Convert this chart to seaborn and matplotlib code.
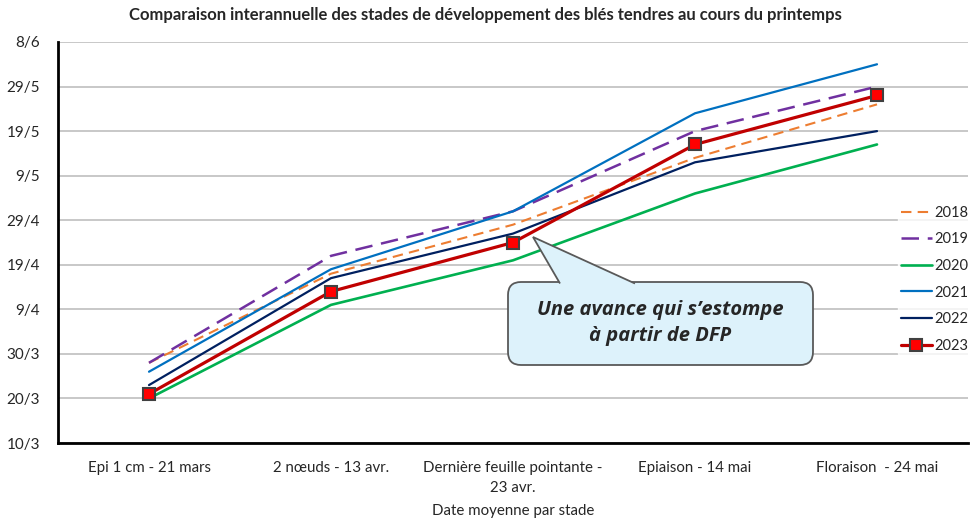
import seaborn as sb
import pandas as pd
import matplotlib
matplotlib.use("Agg")
import matplotlib.pyplot as plt
import matplotlib.dates as mdates
from matplotlib.patches import FancyBboxPatch, Polygon
from matplotlib.transforms import IdentityTransform
from matplotlib.ticker import FuncFormatter, FixedLocator

#### data (dates, day/month)
stades = ["Epi 1 cm - 21 mars", "2 nœuds - 13 avr.", "Dernière feuille pointante -\n23 avr.",
          "Epiaison - 14 mai", "Floraison  - 24 mai"]
years = ["2018", "2019", "2020", "2021", "2022", "2023"]
d2018 = ["28/3", "17/4", "28/4", "13/5", "25/5"]
d2019 = ["28/3", "21/4", "1/5", "19/5", "29/5"]
d2020 = ["20/3", "10/4", "20/4", "5/5", "16/5"]
d2021 = ["26/3", "18/4", "1/5", "23/5", "3/6"]
d2022 = ["23/3", "16/4", "26/4", "12/5", "19/5"]
d2023 = ["21/3", "13/4", "24/4", "16/5", "27/5"]
series = [d2018, d2019, d2020, d2021, d2022, d2023]
y_first, y_last = "10/3", "8/6"

colors = ["#ED7D31", "#7030A0", "#00B050", "#0070C0", "#002060", "#C00000"]
lnst = [(0, (5, 3)), (0, (7, 3.5)), "-", "-", "-", "-"]
widths = [1.5, 1.8, 1.9, 1.6, 1.6, 2.3]

W, H = 971, 519


def to_num(s):
	return mdates.date2num(pd.to_datetime(s + "/2023", format="%d/%m/%Y"))


sb.set_style("white")
plt.rcParams['font.family'] = ['Lato', 'DejaVu Sans']

fig = plt.figure(figsize=(W / 100, H / 100), dpi=100)
ax = fig.add_axes([58 / W, 1 - 443 / H, (968 - 58) / W, (443 - 42) / H])

for i, yr in enumerate(years):
	df = pd.DataFrame({"stade": range(len(stades)), "date": [to_num(s) for s in series[i]]})
	if yr == "2023":
		sb.lineplot(data=df, x="stade", y="date", ax=ax, color=colors[i], linewidth=widths[i],
			marker="s", markersize=9, markerfacecolor="#FF0000", markeredgecolor="#404040",
			markeredgewidth=1.5, label=yr, zorder=5)
	else:
		sb.lineplot(data=df, x="stade", y="date", ax=ax, color=colors[i], linewidth=widths[i],
			linestyle=lnst[i], label=yr, zorder=3)

# axes
y0, y1 = to_num(y_first), to_num(y_last)
ax.set_ylim(y0, y1)
ax.yaxis.set_major_locator(FixedLocator([y0 + 10 * k for k in range(10)]))
ax.yaxis.set_major_formatter(FuncFormatter(lambda v, p: "%d/%d" % (mdates.num2date(v).day, mdates.num2date(v).month)))
ax.set_xlim(-0.5, len(stades) - 0.5)
ax.set_xticks(range(len(stades)))
ax.set_xticklabels(stades, fontsize=10.8, linespacing=1.5)
ax.set_xticks([k - 0.5 for k in range(len(stades) + 1)], minor=True)
ax.tick_params(axis="x", which="major", length=0, pad=13)
ax.tick_params(axis="x", which="minor", length=5, width=1.5, direction="out", color="black")
ax.tick_params(axis="y", length=0, labelsize=11, pad=13)
ax.yaxis.grid(True, color="#C8C8C8", linewidth=1.4)
ax.xaxis.grid(False)
for s in ["top", "right"]:
	ax.spines[s].set_visible(False)
for s in ["left", "bottom"]:
	ax.spines[s].set_color("black")
	ax.spines[s].set_linewidth(2)
ax.set_ylabel("")
ax.set_xlabel("Date moyenne par stade", fontsize=10.8, labelpad=7)

fig.suptitle("Comparaison interannuelle des stades de développement des blés tendres au cours du printemps",
	fontsize=12, fontweight="bold", x=0.5, y=0.987)

# legend
leg = ax.legend(loc="upper left", bbox_to_anchor=(898 / W, 1 - 203 / H), bbox_transform=fig.transFigure,
	frameon=True, fontsize=10.5, handlelength=2.1, handletextpad=0.2, labelspacing=0.86,
	borderpad=0.2, borderaxespad=0)
leg.get_frame().set_facecolor("white")
leg.get_frame().set_edgecolor("white")

# callout (box + tail, placed in pixels)
px = IdentityTransform()
box = FancyBboxPatch((508, H - 365), 305, 83, boxstyle="round,pad=0,rounding_size=13",
	transform=px, fc="#DDF2FB", ec="#595959", lw=1.3, zorder=8)
ax.add_artist(box)
tail = Polygon([(560, H - 283.5), (533, H - 237), (635, H - 283.5)], closed=False,
	transform=px, fc="#DDF2FB", ec="#595959", lw=1.3, zorder=9)
ax.add_artist(tail)
ax.text(660.5, H - 323.5, "Une avance qui s\u2019estompe\nà partir de DFP", transform=px,
	ha="center", va="center", fontsize=14.5, fontstyle="italic", fontweight="bold",
	family=["Open Sans", "DejaVu Sans"], linespacing=1.4, zorder=10)

plt.savefig("out.png", dpi=100)
